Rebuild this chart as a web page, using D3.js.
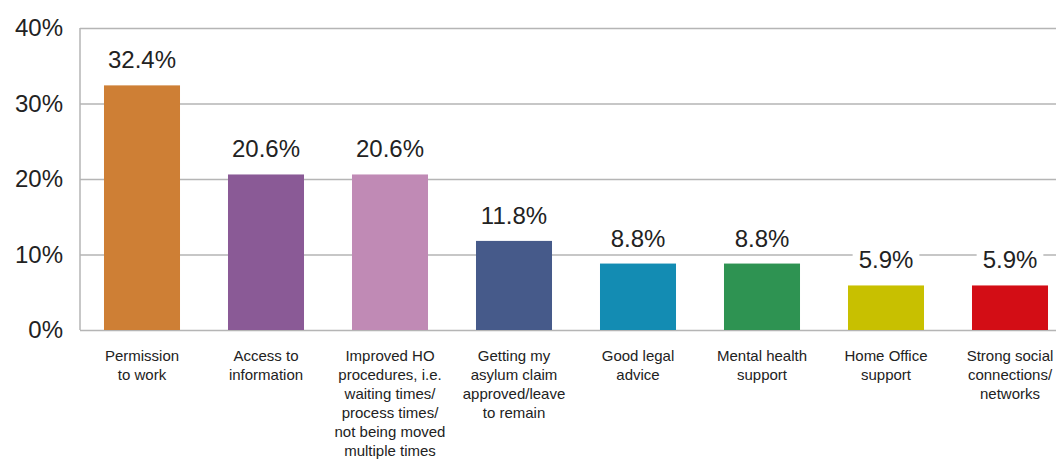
<!DOCTYPE html>
<html>
<head>
<meta charset="utf-8">
<script src="https://cdn.jsdelivr.net/npm/d3@7"></script>
<style>
  body { margin: 0; background: #fff; }
  svg { display: block; font-family: "Liberation Sans", Arial, sans-serif; }
</style>
</head>
<body>
<div id="bar"></div>
<script>
// data
var categories = [
  ["Permission", "to work"],
  ["Access to", "information"],
  ["Improved HO", "procedures, i.e.", "waiting times/", "process times/", "not being moved", "multiple times"],
  ["Getting my", "asylum claim", "approved/leave", "to remain"],
  ["Good legal", "advice"],
  ["Mental health", "support"],
  ["Home Office", "support"],
  ["Strong social", "connections/", "networks"]
];
var values = [32.4, 20.6, 20.6, 11.8, 8.8, 8.8, 5.9, 5.9];
var colors = ["#ce7f35", "#8a5a96", "#c08ab5", "#465a8a", "#138cb3", "#2e9352", "#c8c000", "#d30d15"];
var yTicks = [0, 10, 20, 30, 40];

// plot area (note: "top" is reserved on window, so use a margin object)
var margin = { left: 80, right: 1072, top: 28, bottom: 330 };
var width = 1056, height = 460;

var svg = d3.select("#bar").append("svg")
  .attr("width", width)
  .attr("height", height);

var x = d3.scaleBand()
  .domain(d3.range(values.length))
  .range([margin.left, margin.right])
  .paddingInner(0.387)
  .paddingOuter(0.1935);

var y = d3.scaleLinear()
  .domain([0, 40])
  .range([margin.bottom, margin.top]);

// gridlines + tick labels
svg.append("g")
  .attr("transform", "translate(" + margin.left + ",0)")
  .call(d3.axisLeft(y).tickValues(yTicks).tickSize(-(margin.right - margin.left)).tickFormat(function (d) { return d + "%"; }))
  .call(function (g) {
    g.select(".domain").remove();
    g.selectAll(".tick line").attr("stroke", "#b5b5b5").attr("stroke-width", 1.5);
    g.selectAll(".tick text")
      .attr("x", -17)
      .attr("fill", "#222")
      .style("font-size", "24px")
      .style("font-family", "'Liberation Sans', Arial, sans-serif");
  });

// left axis line
svg.append("line")
  .attr("x1", margin.left).attr("x2", margin.left)
  .attr("y1", y(40)).attr("y2", y(0))
  .attr("stroke", "#b5b5b5")
  .attr("stroke-width", 1.5);

// bars
svg.selectAll(".bar")
  .data(values)
  .enter().append("rect")
  .attr("class", "bar")
  .attr("x", function (d, i) { return x(i); })
  .attr("width", x.bandwidth())
  .attr("y", function (d) { return y(d); })
  .attr("height", function (d) { return y(0) - y(d); })
  .attr("fill", function (d, i) { return colors[i]; });

// value labels with white knock-out
var lab = svg.selectAll(".val")
  .data(values)
  .enter().append("g")
  .attr("class", "val");

lab.append("rect")
  .attr("fill", "#fff");

lab.append("text")
  .attr("x", function (d, i) { return x(i) + x.bandwidth() / 2; })
  .attr("y", function (d) { return y(d) - 17; })
  .attr("text-anchor", "middle")
  .attr("fill", "#222")
  .style("font-size", "24px")
  .text(function (d) { return d.toFixed(1) + "%"; });

lab.each(function () {
  var t = d3.select(this).select("text").node().getBBox();
  d3.select(this).select("rect")
    .attr("x", t.x - 6).attr("y", t.y)
    .attr("width", t.width + 12).attr("height", t.height);
});

// category labels
var cat = svg.selectAll(".cat")
  .data(categories)
  .enter().append("text")
  .attr("class", "cat")
  .attr("text-anchor", "middle")
  .attr("fill", "#222")
  .style("font-size", "15px")
  .attr("x", function (d, i) { return x(i) + x.bandwidth() / 2; })
  .attr("y", 361);

cat.selectAll("tspan")
  .data(function (d) { return d; })
  .enter().append("tspan")
  .attr("x", function () { return d3.select(this.parentNode).attr("x"); })
  .attr("dy", function (d, i) { return i === 0 ? 0 : 19; })
  .text(function (d) { return d; });
</script>
</body>
</html>
